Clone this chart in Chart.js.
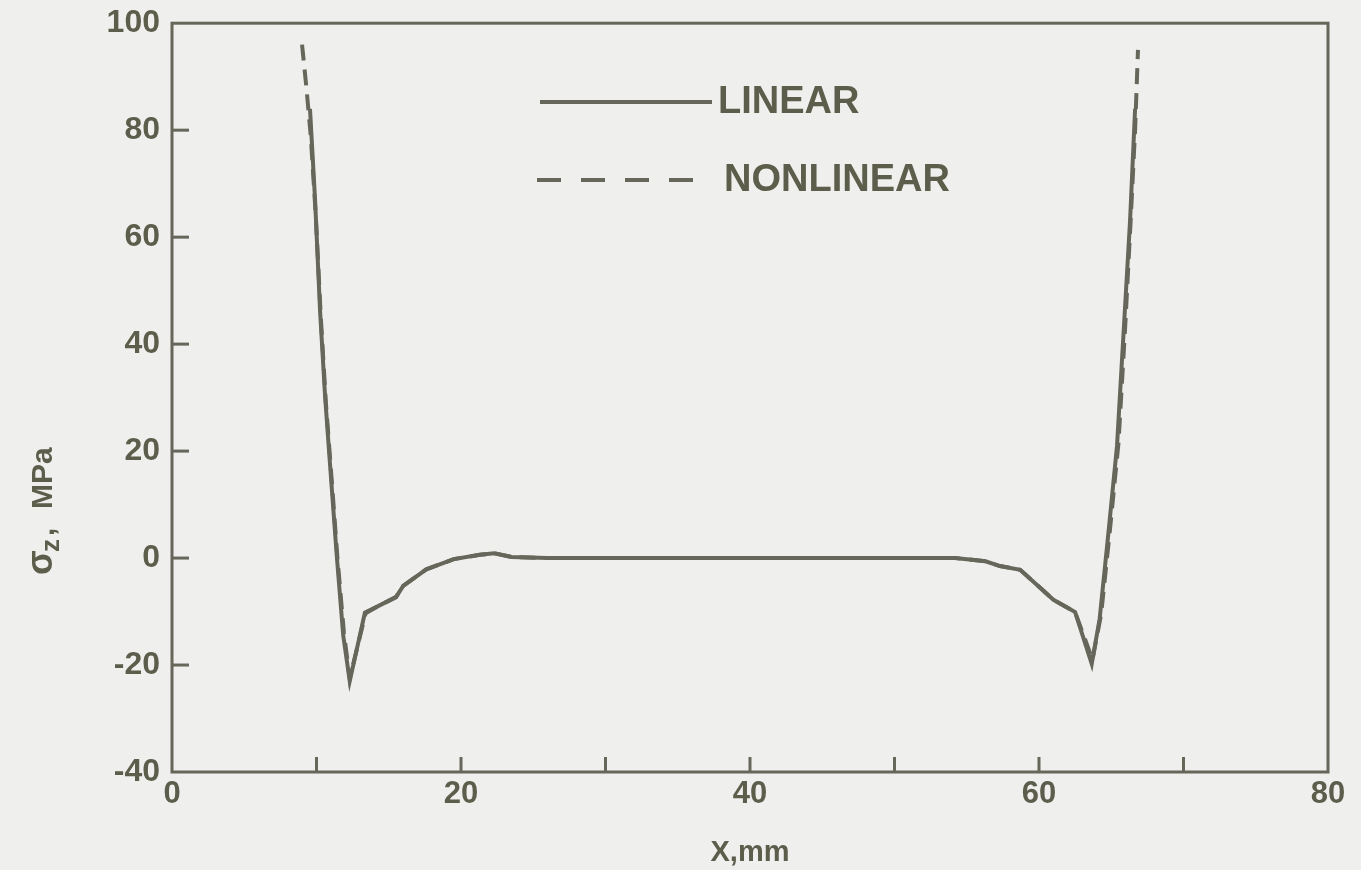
<!DOCTYPE html>
<html>
<head>
<meta charset="utf-8">
<script src="https://cdn.jsdelivr.net/npm/chart.js@4.4.1/dist/chart.umd.min.js"></script>
<style>
  body { margin: 0; background: #efefed; }
  #wrap { width: 1361px; height: 870px; }
</style>
</head>
<body>
<div id="wrap"><canvas id="stressChart" width="1361" height="870"></canvas></div>
<script>
// Values (x in mm, sigma_z in MPa)
const linearX = [9.55, 9.9, 10.25, 10.6, 10.95, 11.4, 11.85, 12.3, 13.35, 14.4, 15.5, 16.0, 17.6, 19.5, 21.3, 22.3, 23.5, 26, 30, 40, 50, 54.2, 56.3, 57.3, 58.7, 61.0, 62.5, 63.65, 64.2, 64.8, 65.4, 65.85, 66.3, 66.65];
const linearY = [84, 67, 46, 30, 17, 0.5, -14.5, -23, -10.2, -8.8, -7.3, -5.2, -2.1, -0.2, 0.6, 0.9, 0.2, 0, 0, 0, 0, 0, -0.6, -1.5, -2.2, -7.8, -10.1, -19.8, -11.3, 4.6, 21, 42, 63, 84];

const nonlinearX = [9.0, 9.3, 9.6, 9.95, 10.3, 10.65, 11.0, 11.45, 11.9, 12.3, 13.4, 14.4, 15.5, 16.0, 17.6, 19.5, 21.3, 22.3, 23.5, 26, 30, 40, 50, 54.2, 56.3, 57.3, 58.7, 61.0, 62.5, 63.7, 64.3, 64.9, 65.5, 65.95, 66.35, 66.65, 66.85];
const nonlinearY = [96, 88, 79, 64, 45, 29, 16.5, 0, -14, -22.5, -10.3, -8.8, -7.3, -5.2, -2.1, -0.2, 0.6, 0.9, 0.2, 0, 0, 0, 0, 0, -0.6, -1.5, -2.2, -7.8, -10.1, -19, -10.5, 5, 21.5, 42.5, 63.5, 80, 95];

const xTicks = [0, 10, 20, 30, 40, 50, 60, 70, 80];
const xTickLabels = ['0', '', '20', '', '40', '', '60', '', '80'];
const yTicks = [-40, -20, 0, 20, 40, 60, 80, 100];

const seriesNames = ['LINEAR', 'NONLINEAR'];

const INK = '#66665b';
const TEXT = '#5d5d4c';
const FONT = '"Liberation Sans", Arial, sans-serif';

const toPoints = (xs, ys) => xs.map((x, i) => ({ x: x, y: ys[i] }));

// frame, inward ticks, legend and y title
const decorPlugin = {
  id: 'decor',
  afterDraw(chart) {
    const { ctx, chartArea: a, scales } = chart;
    ctx.save();
    ctx.strokeStyle = INK;
    ctx.lineWidth = 3;
    ctx.strokeRect(a.left, a.top, a.right - a.left, a.bottom - a.top);

    // inward tick marks
    xTicks.slice(1, -1).forEach(v => {
      const px = scales.x.getPixelForValue(v);
      ctx.beginPath();
      ctx.moveTo(px, a.bottom);
      ctx.lineTo(px, a.bottom - 15);
      ctx.stroke();
    });
    yTicks.slice(1, -1).forEach(v => {
      const py = scales.y.getPixelForValue(v);
      ctx.beginPath();
      ctx.moveTo(a.left, py);
      ctx.lineTo(a.left + 17, py);
      ctx.stroke();
    });

    // legend
    const rows = [
      { x1: 540, x2: 712, y: 102, tx: 718, dash: [] },
      { x1: 537, x2: 700, y: 180, tx: 724, dash: [24, 20] }
    ];
    ctx.font = 'bold 38px ' + FONT;
    ctx.textBaseline = 'middle';
    ctx.fillStyle = TEXT;
    rows.forEach((r, i) => {
      ctx.setLineDash(r.dash);
      ctx.lineWidth = 4;
      ctx.beginPath();
      ctx.moveTo(r.x1, r.y);
      ctx.lineTo(r.x2, r.y);
      ctx.stroke();
      ctx.setLineDash([]);
      ctx.fillText(chart.data.datasets[i].label, r.tx, r.y + 1);
    });

    // y-axis title with subscript
    ctx.translate(44, 575);
    ctx.rotate(-Math.PI / 2);
    ctx.textBaseline = 'middle';
    ctx.textAlign = 'left';
    ctx.font = 'bold 36px ' + FONT;
    ctx.fillText('σ', 0, -2);
    ctx.font = 'bold 26px ' + FONT;
    ctx.fillText('z', 23, 8);
    ctx.font = 'bold 30px ' + FONT;
    ctx.fillText(',', 39, 2);
    ctx.fillText('MPa', 66, 0);
    ctx.restore();
  }
};

new Chart(document.getElementById('stressChart'), {
  type: 'scatter',
  data: {
    datasets: [{
      label: seriesNames[0],
      data: toPoints(linearX, linearY),
      showLine: true,
      borderColor: INK,
      borderWidth: 4,
      pointRadius: 0,
      tension: 0
    }, {
      label: seriesNames[1],
      data: toPoints(nonlinearX, nonlinearY),
      showLine: true,
      borderColor: INK,
      borderWidth: 4,
      borderDash: [16, 9],
      pointRadius: 0,
      tension: 0
    }]
  },
  options: {
    responsive: false,
    animation: false,
    layout: { padding: { left: 0, top: 14, right: 33, bottom: 0 } },
    plugins: {
      legend: { display: false },
      tooltip: { enabled: false }
    },
    scales: {
      x: {
        type: 'linear',
        min: 0,
        max: 80,
        afterFit: s => { s.height = 98; },
        afterBuildTicks: s => { s.ticks = xTicks.map(v => ({ value: v })); },
        grid: { display: false },
        border: { display: false },
        ticks: {
          padding: -4,
          color: TEXT,
          maxRotation: 0,
          autoSkip: false,
          font: { family: FONT, size: 31, weight: 'bold' },
          callback: (v) => xTickLabels[xTicks.indexOf(v)]
        },
        title: {
          display: true,
          text: 'X,mm',
          color: TEXT,
          font: { family: FONT, size: 29, weight: 'bold' },
          padding: { top: 0, bottom: 0 }
        }
      },
      y: {
        min: -40,
        max: 100,
        afterFit: s => { s.width = 172; },
        afterBuildTicks: s => { s.ticks = yTicks.map(v => ({ value: v })); },
        grid: { display: false },
        border: { display: false },
        ticks: {
          padding: 4,
          color: TEXT,
          font: { family: FONT, size: 32, weight: 'bold' }
        }
      }
    }
  },
  plugins: [decorPlugin]
});
</script>
</body>
</html>
